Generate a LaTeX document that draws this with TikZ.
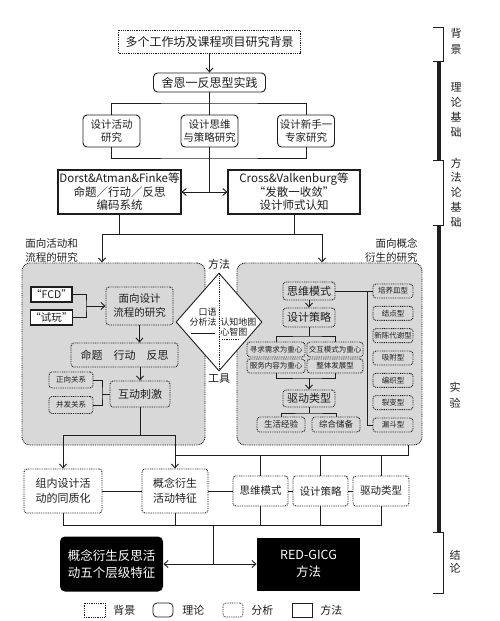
\documentclass[tikz,border=0pt]{standalone}
\usepackage{fontspec}
\setmainfont{Noto Sans CJK SC}
\usetikzlibrary{arrows.meta,shapes.geometric,calc}
\definecolor{ink}{HTML}{1E1E1E}
\definecolor{panel}{HTML}{D8D8D8}
\newcommand{\myfs}[2]{\fontsize{#1}{#2}\selectfont}
\begin{document}
\begin{tikzpicture}[x=1pt,y=-1pt,color=ink,line width=0.9pt,
  dotb/.style={dash pattern=on 0.9pt off 0.9pt},
  bgbox/.style={draw,dotb,inner sep=0pt,align=center},
  thbox/.style={draw,rounded corners=4pt,inner sep=0pt,align=center},
  anbox/.style={draw,dotb,rounded corners=3pt,inner sep=0pt,align=center},
  mebox/.style={draw,line width=1.2pt,inner sep=0pt,align=center},
  blk/.style={fill=black,text=white,inner sep=0pt,align=center},
  arr/.style={-{Straight Barb[length=4pt,width=7pt]}},
  darr/.style={{Straight Barb[length=4pt,width=7pt]}-{Straight Barb[length=4pt,width=7pt]}},
  lab/.style={inner sep=0pt,align=center},
  every node/.style={font=\myfs{11}{13}}]
\fill[white] (0,0) rectangle (500,621);
\useasboundingbox (0,0) rectangle (500,621);

% ---- top part
\node[bgbox,minimum width=182pt,minimum height=23pt,font=\myfs{12}{14}] (top) at (209.5,41.5) {多个工作坊及课程项目研究背景};
\node[thbox,minimum width=112pt,minimum height=19pt,font=\myfs{12}{14}] (schon) at (209.5,82.5) {舍恩一反思型实践};
\node[thbox,minimum width=57pt,minimum height=32pt,font=\myfs{10.5}{13.5}] (act) at (111.5,131) {设计活动\\研究};
\node[thbox,minimum width=57pt,minimum height=32pt,font=\myfs{10.5}{13.5}] (think) at (209.5,131) {设计思维\\与策略研究};
\node[thbox,minimum width=57pt,minimum height=32pt,font=\myfs{10.5}{13.5}] (novice) at (306,131) {设计新手一\\专家研究};
\node[mebox,minimum width=123pt,minimum height=44pt,font=\myfs{11.5}{13.5}] (dorst) at (119.5,192) {Dorst\&Atman\&Finke等\\命题／行动／反思\\编码系统};
\node[mebox,minimum width=132pt,minimum height=44pt,font=\myfs{11.5}{13.5}] (cross) at (294,192) {Cross\&Valkenburg等\\“发散一收敛”\\设计师式认知};

\draw[arr] (top) -- (schon);
\coordinate (h0) at (209.5,103);
\coordinate (h1) at (209.5,158);
\coordinate (h2) at (209.5,192);
\draw (schon) -- (think);
\draw (act.north) |- (h0) -| (novice.north);
\draw (act.south) |- (h1) -| (novice.south);
\draw (think.south) -- (h2);
\draw[darr] (dorst.east) -- (cross.west);

% ---- panels
\node[anbox,fill=panel,rounded corners=8pt,minimum width=183pt,minimum height=182pt] (lp) at (113.5,354) {};
\node[anbox,fill=panel,rounded corners=8pt,minimum width=185pt,minimum height=182pt] (rp) at (329.5,354) {};

\coordinate (L) at (102,234);
\coordinate (R) at (322,234);
\draw (dorst.south) -- (dorst.south |- L);
\draw (cross.south) -- (cross.south |- L);
\draw (L) -- (R);
\draw[arr] (L) -- (L |- lp.north);
\draw[arr] (R) -- (R |- rp.north);

\node[anchor=north west,align=left,inner sep=0pt,font=\myfs{10.5}{14}] (lab1) at (25,238) {面向活动和\\流程的研究};
\node[anchor=north east,align=right,inner sep=0pt,font=\myfs{10.5}{14}] (lab2) at (418,238) {面向概念\\衍生的研究};

% ---- diamond
\node[diamond,draw,fill=white,minimum width=86pt,minimum height=98pt,inner sep=0pt] (dia) at (219,322) {};
\draw[dotb] (dia.north) -- (dia.south);
\node[lab] (ff) at (219,264) {方法};
\node[lab] (gj) at (219,379) {工具};
\node[anchor=east,align=right,inner sep=0pt,font=\myfs{9}{10.5}] (ky) at (217,317) {口语\\分析法};
\node[anchor=west,align=left,inner sep=0pt,font=\myfs{9}{10.5}] (rz) at (220,327) {认知地图\\心智图};
\draw[line width=0.5pt] (191,333) -- (215,333);
\draw[dotb,line width=0.5pt] (222,339) -- (240,339);

% ---- left panel
\node[mebox,fill=white,minimum width=41pt,minimum height=15pt,font=\myfs{10.5}{12}] (fcd) at (51.5,294.5) {“FCD”};
\node[mebox,fill=white,minimum width=41pt,minimum height=15pt,font=\myfs{10.5}{12}] (sw0) at (51.5,317.5) {“试玩”};
\coordinate (j1) at (86,306);
\draw (fcd.east) -| (j1) |- (sw0.east);
\node[anbox,minimum width=67pt,minimum height=38pt,font=\myfs{10.5}{14}] (mx) at (139.5,306) {面向设计\\流程的研究};
\draw[arr] (j1) -- (mx.west);
\node[anbox,minimum width=107pt,minimum height=24pt] (mt) at (124.5,355) {命题\quad 行动\quad 反思};
\draw[arr] (mx.south) -- (mx.south |- mt.north);
\node[anbox,minimum width=60pt,minimum height=26pt] (hd) at (140,394) {互动刺激};
\draw[arr] (hd.north |- mt.south) -- (hd.north);
\node[anbox,minimum width=44pt,minimum height=16pt,font=\myfs{7.5}{9}] (zx) at (71,380) {正向关系};
\node[anbox,minimum width=44pt,minimum height=17pt,font=\myfs{7.5}{9}] (bf) at (71,405) {并发关系};
\coordinate (j2) at (102,394);
\draw (zx.east) -| (j2) |- (bf.east);
\draw (j2) -- (hd.west);

% ---- right panel
\node[anbox,minimum width=52pt,minimum height=18pt] (rsw) at (309,291) {思维模式};
\node[anbox,minimum width=52pt,minimum height=19pt] (rsj) at (309,317.5) {设计策略};
\draw[arr] (rsw) -- (rsj);
\node[anbox,minimum width=58pt,minimum height=15pt,font=\myfs{7.5}{9}] (g1) at (276,349.5) {寻求需求为重心};
\node[anbox,minimum width=56pt,minimum height=15pt,font=\myfs{7.5}{9}] (g2) at (335,349.5) {交互模式为重心};
\node[anbox,minimum width=58pt,minimum height=14pt,font=\myfs{7.5}{9}] (g3) at (276,366) {服务内容为重心};
\node[anbox,minimum width=56pt,minimum height=14pt,font=\myfs{7.5}{9}] (g4) at (335,366) {整体发展型};
\coordinate (k1) at (309,336);
\coordinate (k2) at (309,378);
\coordinate (k3) at (309,413);
\draw (rsj.south) -- (k1);
\draw (g1.north) |- (k1) -| (g2.north);
\draw (g3.south) |- (k2) -| (g4.south);
\node[anbox,minimum width=52pt,minimum height=17pt] (rqd) at (309,398.5) {驱动类型};
\draw[arr] (k2) -- (rqd.north);
\draw (rqd.south) -- (k3);
\node[anbox,minimum width=48pt,minimum height=15pt,font=\myfs{8.5}{10}] (sh) at (281,424.5) {生活经验};
\node[anbox,minimum width=48pt,minimum height=15pt,font=\myfs{8.5}{10}] (zh) at (336,424.5) {综合储备};
\draw (sh.north) |- (k3) -| (zh.north);

\foreach \t [count=\i] in {培养皿型,结点型,新陈代谢型,吸附型,编织型,裂变型,漏斗型}{
  \node[anbox,minimum width=40pt,minimum height=14pt,font=\myfs{7.5}{9}] (c\i) at (393,{291+22.33*(\i-1)}) {\t};
}
\coordinate (k4) at (367,291);
\draw (rsw.east) -- (c1.west);
\draw (k4) |- (c7.west);

% ---- bottom
\node[anbox,minimum width=78pt,minimum height=44pt,font=\myfs{11}{15}] (zn) at (63,491) {组内设计活\\动的同质化};
\node[anbox,minimum width=66pt,minimum height=44pt,font=\myfs{11}{15}] (gn) at (175,491) {概念衍生\\活动特征};
\node[anbox,minimum width=55pt,minimum height=30pt,font=\myfs{10.5}{12}] (bsw) at (260.5,491) {思维模式};
\node[anbox,minimum width=55pt,minimum height=30pt,font=\myfs{10.5}{12}] (bsj) at (320.5,491) {设计策略};
\node[anbox,minimum width=56pt,minimum height=30pt,font=\myfs{10.5}{12}] (bqd) at (381,491) {驱动类型};

\coordinate (j3) at (140,435);
\draw (hd.south) -- (j3);
\draw (zn.north |- j3) -- (gn.north |- j3);
\draw[arr] (zn.north |- j3) -- (zn.north);
\draw[arr] (gn.north |- j3) -- (gn.north);
\coordinate (j4) at (408,455);
\draw (rp.south -| j4) -- (j4) -- (gn.north |- j4);
\draw (bsw.north |- j4) -- (bsw.north);
\draw (bsj.north |- j4) -- (bsj.north);
\draw (bqd.north |- j4) -- (bqd.north);

\draw (zn) -- (gn);
\draw (gn) -- (bsw);
\draw (bsw) -- (bsj);
\draw (bsj) -- (bqd);

\coordinate (j5) at (213,525);
\coordinate (j6) at (213,564);
\draw (zn.south) -- (zn.south |- j5) -- (bqd.south |- j5) -- (bqd.south);
\draw (gn.south) -- (gn.south |- j5);
\draw (bsw.south) -- (bsw.south |- j5);
\draw (bsj.south) -- (bsj.south |- j5);
\draw (j5) -- (j6);

\node[blk,rounded corners=5pt,minimum width=103pt,minimum height=55pt,font=\myfs{12.5}{17}] (bk1) at (111.5,564) {概念衍生反思活\\动五个层级特征};
\node[blk,minimum width=103pt,minimum height=53pt,font=\myfs{12.5}{17}] (bk2) at (308.5,564) {RED-GICG\\方法};
\draw[arr] (j6) -- (bk1.east);
\draw[arr] (j6) -- (bk2.west);

% ---- timeline
\draw[line width=1pt] (433,27) -- (443,27) -- (443,61) -- (433,61);
\draw[line width=3.5pt] (439,61) -- (439,160);
\draw[line width=1pt] (433,160) -- (443,160) -- (443,225) -- (433,225);
\draw[line width=3.5pt] (439,225) -- (439,532);
\draw[line width=1pt] (433,532) -- (443,532) -- (443,593) -- (433,593);
\node[lab,font=\myfs{11}{16}] (t1) at (456,41.5) {背\\景};
\node[lab,font=\myfs{11}{15}] (t2) at (456,110.5) {理\\论\\基\\础};
\node[lab,font=\myfs{11}{14.8}] (t3) at (456,192.5) {方\\法\\论\\基\\础};
\node[lab,font=\myfs{11}{16}] (t4) at (455,395) {实\\验};
\node[lab,font=\myfs{11}{13.5}] (t5) at (455,561.5) {结\\论};

% ---- legend
\node[bgbox,minimum width=21pt,minimum height=14pt,line width=0.7pt] (lg1) at (94.5,610) {};
\node[anchor=west,inner sep=0pt] (lt1) at (113,610) {背景};
\node[thbox,minimum width=20pt,minimum height=14pt,line width=0.8pt] (lg2) at (163,610) {};
\node[anchor=west,inner sep=0pt] (lt2) at (182,610) {理论};
\node[anbox,minimum width=20pt,minimum height=14pt,line width=0.7pt] (lg3) at (233,610) {};
\node[anchor=west,inner sep=0pt] (lt3) at (251,610) {分析};
\node[mebox,minimum width=20pt,minimum height=14pt,line width=0.8pt] (lg4) at (302,610) {};
\node[anchor=west,inner sep=0pt] (lt4) at (320,610) {方法};
\end{tikzpicture}
\end{document}
